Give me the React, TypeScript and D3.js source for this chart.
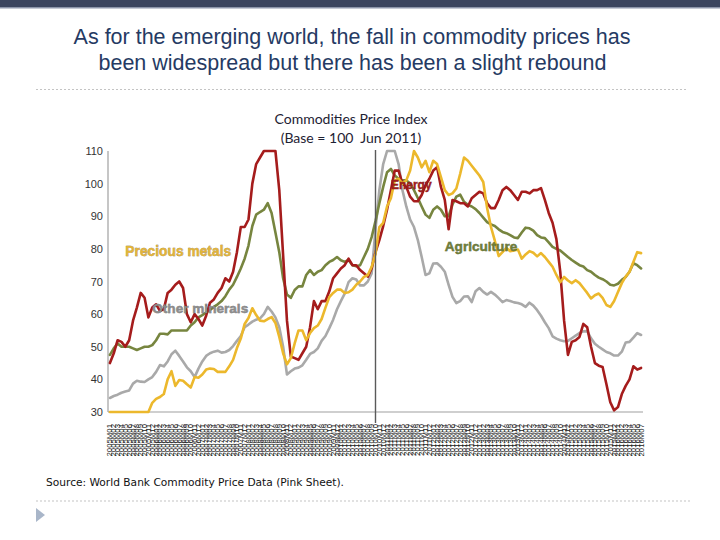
import React from "react";
import * as d3 from "d3";

const START = new Date(2005, 0, 1);
const END = new Date(2016, 7, 1);
const fmt = d3.timeFormat("%YM%m");
const MONTHS: string[] = d3.timeMonths(START, END).map((d) => fmt(d));

const ENERGY = [
  45, 48, 52, 51.5, 50, 52, 58, 62, 66.5, 65, 59, 62,
  63, 61, 61.5, 66.5, 67.5, 69, 70, 68, 60, 57.5, 60, 58.5,
  56.5, 59.5, 63.5, 64.5, 66.5, 68, 71, 70, 73, 79, 86.7, 86.7,
  89, 100, 106, 108, 110, 110, 110, 110, 98, 78, 58, 47,
  46.5, 46, 48, 50, 56, 64, 61.5, 64, 64, 67, 71, 72.5,
  74, 75, 77, 75, 75, 73.5, 72.5, 71.5, 74, 79, 82.7, 87,
  92, 98, 104, 104, 100, 99, 96, 94.6, 94.6, 96.5, 99.5, 101.5,
  104, 105, 99, 95, 86, 95, 94.6, 94, 94, 93, 95.5, 96.5,
  97.5, 97, 94, 92.5, 92.5, 95, 98, 99, 98, 96.5, 95, 97.5,
  97.5, 97, 98, 98, 98.6, 95, 91, 88, 83, 73, 58, 47.5,
  51.5, 52, 53, 57, 56, 50, 45, 44.2, 43.8, 38.5, 33, 30.5,
  31.5, 35.5, 38, 40, 44, 43, 43.5,
];

const AGRICULTURE = [
  47.5, 49.5, 51, 50, 50, 50, 49.5, 49, 49.5, 50, 50, 50.5,
  52, 54, 54, 53.8, 55, 55, 55, 55, 55, 56.5, 57.5, 59,
  59.7, 60.5, 61.3, 62.2, 63, 64, 65.5, 67.5, 69, 71.4, 74, 77,
  81, 87, 90.5, 91.3, 92, 94, 91, 85, 79, 71, 66, 65,
  67.4, 68.5, 68.5, 72, 73.5, 72, 73, 73.5, 75, 76, 76.6, 77.5,
  76.5, 76, 76.6, 75, 74.7, 75, 77.5, 80, 83.6, 88.5, 94, 99,
  103.5, 104.5, 102.5, 101.5, 101, 101, 100, 98, 95.6, 93, 90.5, 89.5,
  92, 93, 92, 90, 90, 93.6, 96, 96.6, 94.4, 93.5, 93, 92.2,
  91, 89.6, 88.2, 87.5, 87, 86, 85.2, 84.8, 84.2, 83.5, 83.3, 85,
  86.5, 86.3, 85.6, 84.2, 83.5, 83.3, 82, 80.6, 80, 79.5, 78.5, 77.5,
  76.6, 75.8, 75, 74.6, 73.5, 73, 72, 71.2, 70.7, 70, 69, 68.8,
  69.3, 70.5, 71.4, 73, 75.6, 75, 74,
];

const PRECIOUS = [
  30, 30, 30, 30, 30, 30, 30, 30, 30, 30, 30, 32.8,
  34, 34.6, 35.5, 40, 42.5, 38, 39.8, 39.6, 38.5, 37.5, 40.7, 40.5,
  41.5, 43, 43.3, 43.2, 42.3, 42.3, 42.3, 44, 46, 49.6, 52.5, 57,
  58.8, 61.8, 59.7, 58, 57.8, 58.5, 59.1, 57.3, 53, 48, 44.6, 46.5,
  51, 55, 55, 52, 54.2, 55.7, 56.5, 58.5, 62, 65.2, 66.5, 67.5,
  67.5, 66.5, 66.7, 67.5, 69, 70, 71.4, 72, 74.5, 78.5, 86.7, 88,
  93, 95.5, 101, 101.5, 100, 101, 104, 110, 108, 105, 107, 103.5,
  107, 106, 102, 98, 96.5, 97, 98.5, 103, 108, 107, 105.5, 104,
  102.5, 100.5, 92.5, 86.7, 82.5, 77.8, 79, 80.3, 79.3, 79.5, 79.8, 77,
  78.3, 79.3, 78.8, 77.7, 78.7, 77.5, 76, 74.5, 72, 69.8, 71.4, 70.3,
  69.5, 70.4, 69.5, 68, 66.5, 64.8, 65.8, 66.3, 65, 62.8, 62.2, 64,
  66.8, 69.5, 71.5, 73, 76, 79, 78.7,
];

const OTHER_MINERALS = [
  34.3, 34.9, 35.3, 35.9, 36.3, 36.6, 38.7, 39.6, 39.3, 39.2, 40, 40.7,
  42.3, 44.4, 44, 45.5, 47.7, 48.8, 47.2, 45.5, 43.7, 42.5, 40.7, 43.3,
  45.5, 47.2, 48, 48.5, 48.8, 48.2, 48.4, 49, 50.2, 51.8, 53.3, 56,
  56.8, 57.7, 58.3, 58.7, 60, 62.2, 60.8, 59, 56, 50, 41.5, 42.5,
  43.3, 43.6, 44.3, 46, 47.8, 48.4, 49.5, 51.8, 53.3, 55.7, 58.3, 61.5,
  64, 66.3, 69.8, 71, 70.6, 68.8, 68.8, 70, 72.5, 86, 98, 106,
  110, 110, 110, 106, 98, 93, 89, 86.7, 82.7, 77.5, 72, 72.5,
  75.5, 75.6, 74.5, 73, 69, 65.3, 63.4, 64, 65.4, 65.5, 63.7, 67,
  68, 66.8, 66, 66.8, 66, 64.9, 63.7, 64.3, 64, 63.6, 63.4, 63,
  62.2, 63.5, 62.6, 61.2, 59.5, 57.5, 55.7, 53.2, 52.5, 52, 51.7, 51.8,
  52.6, 53.4, 54.2, 54.7, 54.8, 52.6, 50.9, 50, 49.2, 48.4, 48, 47.3,
  47.3, 48.5, 51.3, 51.5, 52.8, 54.2, 53.6,
];

const Y_TICKS = [30, 40, 50, 60, 70, 80, 90, 100, 110];
const MARKER_MONTH = "2010M10";

const SERIES = [
  { name: "Other minerals", values: OTHER_MINERALS, color: "#a9a9a9" },
  { name: "Agriculture", values: AGRICULTURE, color: "#77853f" },
  { name: "Energy", values: ENERGY, color: "#a51c1c" },
  { name: "Precious metals", values: PRECIOUS, color: "#ecb82c" },
];

const LABELS = [
  { text: "Precious metals", month: "2005M05", value: 77.7, fill: "#e2b43a", stroke: "#7a5a10", size: 13.8 },
  { text: "Other minerals", month: "2005M12", value: 60.3, fill: "#8c8c8c", stroke: "#555", size: 13.6 },
  { text: "Energy", month: "2011M02", value: 98.5, fill: "#a01c1c", stroke: "#5a0a0a", size: 12 },
  { text: "Agriculture", month: "2012M04", value: 79.2, fill: "#6e7d38", stroke: "#3e4a1a", size: 13.6 },
];

export default function App() {
  const W = 720;
  const H = 540;
  const left = 108;
  const right = 643;
  const top = 151;
  const bottom = 412;

  const x = d3.scalePoint<string>().domain(MONTHS).range([left, right]).padding(0.5);
  const y = d3.scaleLinear().domain([30, 110]).range([bottom, top]).clamp(true);

  const line = d3
    .line<number>()
    .x((_, i) => x(MONTHS[i]) as number)
    .y((d) => y(d));

  const sans = "'Liberation Sans', Arial, sans-serif";
  const markerX = x(MARKER_MONTH) as number;

  return (
    <svg width={W} height={H} style={{ position: "absolute", left: 0, top: 0, background: "#fff" }}>
      <rect x={0} y={0} width={W} height={7} fill="#3c465f" />
      <rect x={0} y={7} width={W} height={1.5} fill="#8d96aa" />

      <text x={352} y={43.5} textAnchor="middle" fontFamily={sans} fontSize={21.5} fill="#253a63">
        As for the emerging world, the fall in commodity prices has
      </text>
      <text x={352.5} y={69.5} textAnchor="middle" fontFamily={sans} fontSize={21.5} fill="#253a63">
        been widespread but there has been a slight rebound
      </text>
      <line x1={36} x2={686} y1={89.5} y2={89.5} stroke="#c4c4c4" strokeWidth={1.2} strokeDasharray="2,2" />

      <text x={351} y={124} textAnchor="middle" fontFamily="Lato, sans-serif" fontSize={14} fill="#1e2233">
        Commodities Price Index
      </text>
      <text x={351} y={143} textAnchor="middle" fontFamily="Lato, sans-serif" fontSize={14} fill="#1e2233" style={{ whiteSpace: "pre" }}>
        {"(Base = 100\u00a0\u00a0Jun 2011)"}
      </text>

      {Y_TICKS.map((t) => (
        <text key={t} x={103} y={y(t) + 4} textAnchor="end" fontFamily={sans} fontSize={11} fill="#333">
          {t}
        </text>
      ))}
      <line x1={left} x2={left} y1={top} y2={bottom} stroke="#a0a0a0" strokeWidth={1.2} />
      <line x1={left} x2={right} y1={bottom} y2={bottom} stroke="#a0a0a0" strokeWidth={1.2} />

      {MONTHS.map((m) => (
        <text
          key={m}
          transform={`translate(${(x(m) as number) + 2.5},${424}) rotate(-90)`}
          textAnchor="end"
          fontFamily={sans}
          fontSize={7.8}
          fill="#222"
        >
          {m}
        </text>
      ))}

      {SERIES.map((s) => (
        <path
          key={s.name}
          d={line(s.values) || ""}
          fill="none"
          stroke={s.color}
          strokeWidth={2.6}
          strokeLinejoin="round"
          strokeLinecap="round"
        />
      ))}

      <line x1={markerX} x2={markerX} y1={150} y2={423} stroke="#5a5a5a" strokeWidth={1.4} />

      {LABELS.map((l) => (
        <text
          key={l.text}
          x={x(l.month) as number}
          y={y(l.value)}
          fontFamily={sans}
          fontWeight="bold"
          fontSize={l.size}
          fill={l.fill}
          stroke={l.stroke}
          strokeWidth={0.4}
          style={{ paintOrder: "stroke" }}
        >
          {l.text}
        </text>
      ))}

      <text x={46} y={486} fontFamily="'DejaVu Sans', sans-serif" fontSize={10.5} fill="#111" textLength={298} lengthAdjust="spacingAndGlyphs">
        Source: World Bank Commodity Price Data (Pink Sheet).
      </text>
      <line x1={36} x2={690} y1={501} y2={501} stroke="#c4c4c4" strokeWidth={1.2} strokeDasharray="2,2" />
      <path d="M36,508 L45,515 L36,522 Z" fill="#a9b6c9" />
    </svg>
  );
}
